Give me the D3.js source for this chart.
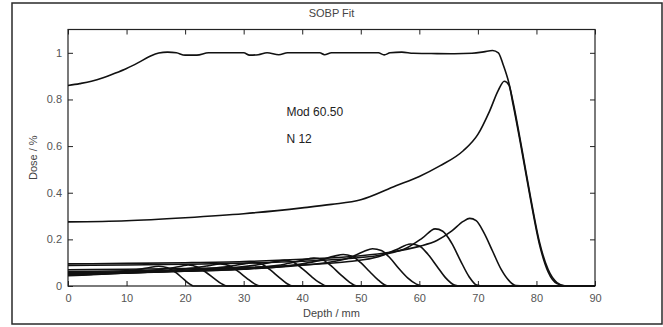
<!DOCTYPE html>
<html>
<head>
<meta charset="utf-8">
<script src="https://cdn.jsdelivr.net/npm/d3@7"></script>
<style>
  body { margin: 0; background: #fff; }
  svg { display: block; font-family: "Liberation Sans", Arial, sans-serif; }
</style>
</head>
<body>
<div class="box"></div>
<script>
// Values: [depth mm, dose]
const sobp = [[0,0.86],[2,0.868],[4,0.878],[6,0.893],[8,0.912],[10,0.933],[12,0.958],[14,0.985],[15.5,0.999],[17,1.003],[18.5,1.0],[20,0.99],[22,0.99],[24,1.0],[30,1.0],[31,0.99],[32.5,0.992],[34,1.0],[36,0.992],[37.5,1.0],[43,1.0],[43.8,0.992],[45,1.0],[53,1.0],[54,0.991],[55,1.0],[57,1.003],[59,0.998],[62,0.997],[66,0.996],[69,0.998],[71,1.004],[72.5,1.01],[73.5,1.0],[74.3,0.95],[75.3,0.87],[76,0.79],[77.5,0.59],[79,0.38],[80.5,0.19],[82,0.07],[83.5,0.015],[85,0],[90,0]];

const peak1 = [[0,0.275],[10,0.28],[20,0.293],[30,0.31],[40,0.335],[45,0.35],[50,0.37],[56,0.43],[60,0.47],[63.5,0.515],[67.5,0.58],[70,0.65],[72,0.75],[73.5,0.84],[74.5,0.878],[75.3,0.862],[76,0.78],[77.5,0.58],[79,0.37],[80.5,0.18],[82,0.06],[83.5,0.01],[85,0],[90,0]];
const peak2 = [[0,0.095],[10,0.097],[20,0.1],[30,0.105],[40,0.115],[50,0.13],[55,0.145],[60,0.17],[63,0.195],[65.5,0.235],[67.5,0.277],[68.6,0.29],[69.7,0.28],[71,0.23],[72.5,0.15],[74,0.07],[75.5,0.018],[76.5,0.002],[78,0],[90,0]];
const peak3 = [[0,0.088],[10,0.09],[20,0.093],[30,0.098],[40,0.106],[48,0.118],[54,0.135],[58,0.165],[60.5,0.205],[62.7,0.245],[64,0.235],[65.5,0.185],[67,0.11],[68.5,0.04],[69.8,0.004],[71,0],[90,0]];
const peak4 = [[0,0.07],[10,0.072],[20,0.075],[30,0.08],[40,0.09],[48,0.105],[53,0.125],[56,0.155],[58.5,0.18],[60,0.172],[61.5,0.135],[63,0.085],[64.5,0.035],[66,0.004],[67,0],[90,0]];
const peak5 = [[0,0.062],[10,0.065],[20,0.068],[30,0.075],[38,0.085],[44,0.1],[48,0.12],[50.5,0.148],[52,0.16],[53.5,0.152],[55,0.12],[56.5,0.075],[58,0.035],[59.5,0.008],[60.6,0],[90,0]];
const peak6 = [[0,0.058],[10,0.06],[20,0.064],[30,0.072],[36,0.082],[40,0.095],[43,0.11],[45.5,0.128],[47,0.135],[48.5,0.128],[50,0.1],[51.5,0.062],[53,0.025],[54.6,0],[90,0]];
const peak7 = [[0,0.055],[10,0.058],[20,0.063],[28,0.07],[33,0.08],[37,0.093],[40,0.11],[42,0.12],[43.5,0.112],[45,0.085],[46.5,0.05],[48,0.018],[49.4,0],[90,0]];
const peak8 = [[0,0.052],[10,0.056],[18,0.062],[24,0.07],[29,0.08],[33,0.093],[35.5,0.105],[37,0.11],[38.5,0.102],[40,0.075],[41.5,0.042],[43,0.014],[44.2,0],[90,0]];
const peak9 = [[0,0.05],[8,0.054],[15,0.06],[20,0.067],[25,0.077],[28.5,0.088],[30.5,0.097],[31.5,0.1],[33,0.094],[34.5,0.07],[36,0.038],[37.3,0.012],[38.4,0],[90,0]];
const peak10 = [[0,0.048],[6,0.052],[12,0.058],[17,0.066],[21,0.076],[24,0.087],[26,0.095],[27.5,0.088],[29,0.064],[30.5,0.034],[31.8,0.01],[32.8,0],[90,0]];
const peak11 = [[0,0.046],[5,0.05],[10,0.057],[14,0.066],[17.5,0.077],[19.5,0.086],[20.5,0.09],[22,0.083],[23.5,0.06],[25,0.032],[26.2,0.01],[27.1,0],[90,0]];
const peak12 = [[0,0.044],[4,0.05],[8,0.058],[11,0.067],[13.5,0.077],[15.5,0.085],[17,0.078],[18.5,0.056],[19.8,0.028],[20.8,0.008],[21.4,0],[90,0]];

const peaks = [peak1, peak2, peak3, peak4, peak5, peak6, peak7, peak8, peak9, peak10, peak11, peak12];

const xTicks = [0, 10, 20, 30, 40, 50, 60, 70, 80, 90];
const yTicks = [0, 0.2, 0.4, 0.6, 0.8, 1];
const notes = ["Mod 60.50", "N 12"];

// svg box
const w = 663;
const h = 327;
const plotLeft = 68, plotRight = 595, plotTop = 29.5, plotBottom = 286;

const svg = d3.select(".box")
              .append("svg")
              .attr("width", w)
              .attr("height", h);

svg.append("rect")
    .attr("width", w).attr("height", h)
    .attr("fill", "#fff");

// outer frame of the figure
svg.append("rect")
    .attr("x", 12).attr("y", 3)
    .attr("width", 650).attr("height", 321)
    .attr("fill", "none")
    .attr("stroke", "#2a2a2a")
    .attr("stroke-width", 1.5);

const xScale = d3.scaleLinear().domain([0, 90]).range([plotLeft, plotRight]);
const yScale = d3.scaleLinear().domain([0, 1.1]).range([plotBottom, plotTop]);

// AXES - ticks point inward on every side
const styleAxis = g => {
    g.select(".domain").remove();
    g.selectAll(".tick line").attr("stroke", "#222").attr("stroke-width", 1);
    g.selectAll(".tick text")
        .attr("fill", "#555")
        .style("font-size", "11px")
        .style("font-family", "Liberation Sans, Arial, sans-serif");
};

svg.append("g")
    .attr("transform", "translate(0," + plotBottom + ")")
    .call(d3.axisBottom(xScale).tickValues(xTicks).tickSize(-5).tickPadding(8).tickFormat(d3.format("d")))
    .call(styleAxis);

svg.append("g")
    .attr("transform", "translate(0," + plotTop + ")")
    .call(d3.axisTop(xScale).tickValues(xTicks).tickSize(-5).tickFormat(""))
    .call(styleAxis);

svg.append("g")
    .attr("transform", "translate(" + plotLeft + ",0)")
    .call(d3.axisLeft(yScale).tickValues(yTicks).tickSize(-5).tickPadding(6).tickFormat(d => d === 0 || d === 1 ? d3.format("d")(d) : d3.format(".1f")(d)))
    .call(styleAxis);

svg.append("g")
    .attr("transform", "translate(" + plotRight + ",0)")
    .call(d3.axisRight(yScale).tickValues(yTicks).tickSize(-5).tickFormat(""))
    .call(styleAxis);

// plot box
svg.append("rect")
    .attr("x", plotLeft).attr("y", plotTop)
    .attr("width", plotRight - plotLeft).attr("height", plotBottom - plotTop)
    .attr("fill", "none")
    .attr("stroke", "#222")
    .attr("stroke-width", 1.2);

// CURVES
const line = d3.line()
    .x(d => xScale(d[0]))
    .y(d => yScale(d[1]))
    .curve(d3.curveMonotoneX);

svg.append("g")
    .selectAll("path")
    .data(peaks.slice().reverse())
    .enter()
    .append("path")
    .attr("d", line)
    .attr("fill", "none")
    .attr("stroke", "#111")
    .attr("stroke-width", 1.6);

svg.append("path")
    .datum(sobp)
    .attr("d", line)
    .attr("fill", "none")
    .attr("stroke", "#111")
    .attr("stroke-width", 1.6);

// TEXTS
svg.append("text")
    .attr("x", (plotLeft + plotRight) / 2)
    .attr("y", 17)
    .attr("text-anchor", "middle")
    .attr("fill", "#444")
    .style("font-size", "11px")
    .text("SOBP Fit");

svg.append("text")
    .attr("x", (plotLeft + plotRight) / 2)
    .attr("y", 317)
    .attr("text-anchor", "middle")
    .attr("fill", "#444")
    .style("font-size", "11px")
    .text("Depth / mm");

svg.append("text")
    .attr("transform", "rotate(-90)")
    .attr("x", -(plotTop + plotBottom) / 2)
    .attr("y", 37)
    .attr("text-anchor", "middle")
    .attr("fill", "#444")
    .style("font-size", "11px")
    .text("Dose / %");

svg.selectAll(".note")
    .data(notes)
    .enter()
    .append("text")
    .attr("class", "note")
    .attr("x", xScale(37.3))
    .attr("y", (d, i) => yScale(0.73) + i * 27)
    .attr("fill", "#222")
    .style("font-size", "12px")
    .text(d => d);
</script>
</body>
</html>
